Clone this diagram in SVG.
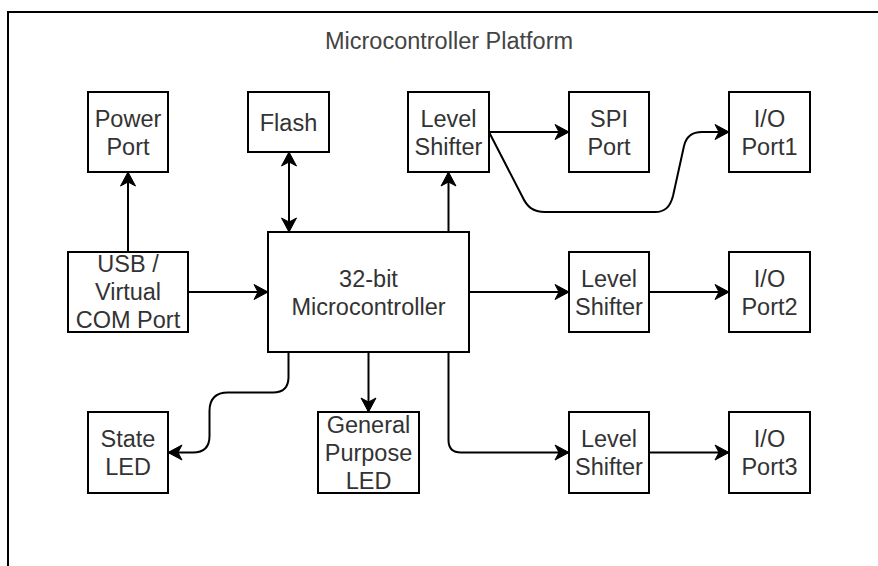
<svg xmlns="http://www.w3.org/2000/svg" width="878" height="566" viewBox="0 0 878 566">
  <style>
    .box { fill: #ffffff; stroke: #000000; stroke-width: 2; }
    .lbl { font-family: "Liberation Sans", Arial, sans-serif; font-size: 23.5px; fill: #333333; text-anchor: middle; }
    .title { font-family: "Liberation Sans", Arial, sans-serif; font-size: 23.5px; fill: #444444; text-anchor: middle; }
    .edge { fill: none; stroke: #000000; stroke-width: 2; }
    .arr { marker-end: url(#head); }
  </style>
  <defs>
    <marker id="head" markerUnits="userSpaceOnUse" orient="auto-start-reverse" refX="0" refY="0" markerWidth="20" markerHeight="20" overflow="visible">
      <path d="M0,0 L-14,-7.5 L-10,0 L-14,7.5 Z" fill="#000000" stroke="#000000" stroke-width="1" stroke-linejoin="miter"/>
    </marker>
  </defs>

  <rect width="878" height="566" fill="#ffffff"/>

  <!-- platform container -->
  <g id="platform">
    <rect x="8" y="12" width="900" height="600" fill="none" stroke="#000000" stroke-width="2"/>
    <text class="title" x="449" y="49">Microcontroller Platform</text>
  </g>

  <!-- connectors -->
  <g id="connectors">
    <path class="edge arr" d="M128,252 L128,172"/>
    <path class="edge arr" d="M289,232 L289,152" style="marker-start:url(#head)"/>
    <path class="edge arr" d="M448.5,232 L448.5,172"/>
    <path class="edge arr" d="M489,132 L569,132"/>
    <path class="edge arr" d="M489,132 L522,196 C527,207 533,212 545,212 L655,212 C665,212 670,207 673,196 L684,146 C686,137 692,132 702,132 L729,132"/>
    <path class="edge arr" d="M188,292 L268,292"/>
    <path class="edge arr" d="M469,292 L569,292"/>
    <path class="edge arr" d="M649,292 L729,292"/>
    <path class="edge arr" d="M368.5,352 L368.5,412"/>
    <path class="edge arr" d="M288.5,352 L288.5,377 Q288.5,392.5 273,392.5 L228,392.5 C216,392.5 209.5,399 209.5,411 L209.5,436 C209.5,447 204,452.5 193,452.5 L168,452.5"/>
    <path class="edge arr" d="M448.5,352 L448.5,440 Q448.5,452.5 461,452.5 L569,452.5"/>
    <path class="edge arr" d="M649,452.5 L729,452.5"/>
  </g>

  <g id="power-port">
    <rect class="box" x="88" y="92" width="80" height="80"/>
    <text class="lbl" x="128" y="127">Power</text>
    <text class="lbl" x="128" y="155">Port</text>
  </g>

  <g id="flash">
    <rect class="box" x="248" y="92" width="81" height="60"/>
    <text class="lbl" x="288.5" y="131">Flash</text>
  </g>

  <g id="level-shifter-1">
    <rect class="box" x="408" y="92" width="81" height="80"/>
    <text class="lbl" x="448.5" y="127">Level</text>
    <text class="lbl" x="448.5" y="155">Shifter</text>
  </g>

  <g id="spi-port">
    <rect class="box" x="569" y="92" width="80" height="80"/>
    <text class="lbl" x="609" y="127">SPI</text>
    <text class="lbl" x="609" y="155">Port</text>
  </g>

  <g id="io-port-1">
    <rect class="box" x="729" y="92" width="81" height="80"/>
    <text class="lbl" x="769.5" y="127">I/O</text>
    <text class="lbl" x="769.5" y="155">Port1</text>
  </g>

  <g id="usb-com">
    <rect class="box" x="68" y="252" width="120" height="80"/>
    <text class="lbl" x="128" y="272">USB /</text>
    <text class="lbl" x="128" y="300">Virtual</text>
    <text class="lbl" x="128" y="328">COM Port</text>
  </g>

  <g id="mcu">
    <rect class="box" x="268" y="232" width="201" height="120"/>
    <text class="lbl" x="368.5" y="287">32-bit</text>
    <text class="lbl" x="368.5" y="315">Microcontroller</text>
  </g>

  <g id="level-shifter-2">
    <rect class="box" x="569" y="252" width="80" height="80"/>
    <text class="lbl" x="609" y="287">Level</text>
    <text class="lbl" x="609" y="315">Shifter</text>
  </g>

  <g id="io-port-2">
    <rect class="box" x="729" y="252" width="81" height="80"/>
    <text class="lbl" x="769.5" y="287">I/O</text>
    <text class="lbl" x="769.5" y="315">Port2</text>
  </g>

  <g id="state-led">
    <rect class="box" x="88" y="412" width="80" height="81"/>
    <text class="lbl" x="128" y="447">State</text>
    <text class="lbl" x="128" y="475">LED</text>
  </g>

  <g id="gp-led">
    <rect class="box" x="318" y="412" width="101" height="81"/>
    <text class="lbl" x="368.5" y="433">General</text>
    <text class="lbl" x="368.5" y="461">Purpose</text>
    <text class="lbl" x="368.5" y="489">LED</text>
  </g>

  <g id="level-shifter-3">
    <rect class="box" x="569" y="412" width="80" height="81"/>
    <text class="lbl" x="609" y="447">Level</text>
    <text class="lbl" x="609" y="475">Shifter</text>
  </g>

  <g id="io-port-3">
    <rect class="box" x="729" y="412" width="81" height="81"/>
    <text class="lbl" x="769.5" y="447">I/O</text>
    <text class="lbl" x="769.5" y="475">Port3</text>
  </g>
</svg>
